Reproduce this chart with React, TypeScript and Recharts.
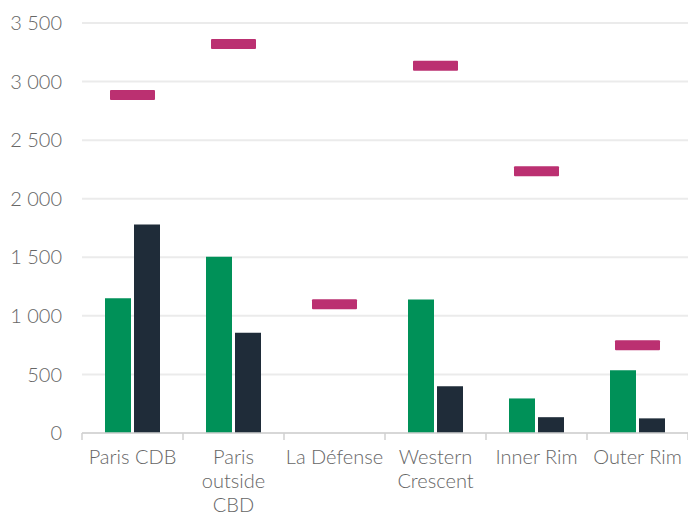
import React from "react";
import { ComposedChart, Bar, Scatter, XAxis, YAxis, CartesianGrid } from "recharts";

const categories = ["Paris CDB", "Paris\noutside\nCBD", "La Défense", "Western\nCrescent", "Inner Rim", "Outer Rim"];
const greenValues = [1150, 1505, null, 1140, 295, 535];
const darkValues = [1780, 855, null, 400, 135, 125];
const markerValues = [2885, 3320, 1100, 3135, 2235, 750];
const yTicks = [0, 500, 1000, 1500, 2000, 2500, 3000, 3500];

const data = categories.map((c, i) => ({
  name: c,
  green: greenValues[i],
  dark: darkValues[i],
  marker: markerValues[i],
}));

const FONT = "Lato, 'Open Sans', sans-serif";
const TEXT = "#666666";

const fmt = (n: number) => String(n).replace(/\B(?=(\d{3})+(?!\d))/g, " ");

const XTick = (props: any) => {
  const { x, y, payload, index, visibleTicksCount, width } = props;
  const band = width / visibleTicksCount;
  const lines = String(payload.value).split("\n");
  return (
    <g>
      <line x1={x - band / 2} x2={x - band / 2} y1={y} y2={y + 7} stroke="#d0d0d0" strokeWidth={1.5} />
      {index === visibleTicksCount - 1 && (
        <line x1={x + band / 2} x2={x + band / 2} y1={y} y2={y + 7} stroke="#d0d0d0" strokeWidth={1.5} />
      )}
      <text x={x} y={y} textAnchor="middle" fill={TEXT} fontFamily={FONT} fontWeight={300} fontSize={20}>
        {lines.map((l, i) => (
          <tspan key={i} x={x} y={y + 31 + i * 24}>
            {l}
          </tspan>
        ))}
      </text>
    </g>
  );
};

const Marker = (props: any) => {
  const { cx, cy } = props;
  if (cx == null || cy == null) return null;
  return <rect x={cx - 22.5} y={cy - 5} width={45} height={10} rx={1} fill="#bb3071" />;
};

export default function App() {
  return (
    <ComposedChart
      width={688}
      height={505}
      data={data}
      margin={{ top: 15, right: 8, left: 0, bottom: 0 }}
      barSize={26}
      barGap={3}
    >
      <CartesianGrid vertical={false} stroke="#ebebeb" strokeWidth={2} />
      <XAxis
        dataKey="name"
        height={80}
        interval={0}
        tickLine={false}
        tickSize={0}
        tickMargin={0}
        axisLine={{ stroke: "#d0d0d0", strokeWidth: 1.5 }}
        tick={<XTick />}
      />
      <YAxis
        width={74}
        domain={[0, 3500]}
        ticks={yTicks}
        interval={0}
        axisLine={false}
        tickLine={false}
        tickSize={0}
        tickMargin={20}
        tickFormatter={fmt}
        tick={{ fill: TEXT, fontFamily: FONT, fontSize: 20, fontWeight: 300 }}
      />
      <Bar dataKey="green" fill="#009158" isAnimationActive={false} />
      <Bar dataKey="dark" fill="#1f2c39" isAnimationActive={false} />
      <Scatter dataKey="marker" shape={<Marker />} isAnimationActive={false} />
    </ComposedChart>
  );
}
